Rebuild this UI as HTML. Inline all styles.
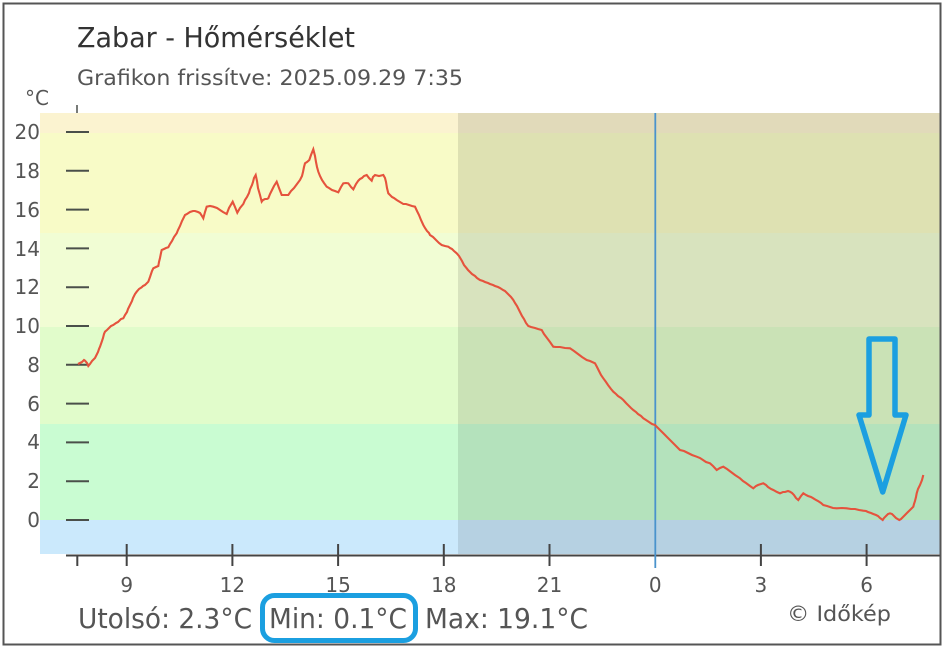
<!DOCTYPE html>
<html>
<head>
<meta charset="utf-8">
<style>
  html,body{margin:0;padding:0;background:#fff;}
  svg{display:block;}
  text{font-family:"DejaVu Sans","Liberation Sans",sans-serif;}
</style>
</head>
<body>
<svg width="945" height="650" viewBox="0 0 945 650" xmlns="http://www.w3.org/2000/svg">
  <rect x="0" y="0" width="945" height="650" fill="#fff"/>
  <!-- temperature bands -->
  <rect x="40" y="113" width="900" height="20" fill="#fbf3d0"/>
  <rect x="40" y="133" width="900" height="100" fill="#f8fbc7"/>
  <rect x="40" y="233" width="900" height="94" fill="#f1fdd4"/>
  <rect x="40" y="327" width="900" height="97" fill="#e1fccb"/>
  <rect x="40" y="424" width="900" height="96" fill="#c9fcd2"/>
  <rect x="40" y="520" width="900" height="34" fill="#cbe9fc"/>
  <!-- night shading -->
  <rect x="458" y="113" width="482" height="441" fill="#000" fill-opacity="0.1"/>

  <!-- y tick dashes -->
  <g stroke="#4a4f4a" stroke-width="2">
    <line x1="66" y1="520" x2="89" y2="520"/>
    <line x1="66" y1="481.2" x2="89" y2="481.2"/>
    <line x1="66" y1="442.4" x2="89" y2="442.4"/>
    <line x1="66" y1="403.6" x2="89" y2="403.6"/>
    <line x1="66" y1="364.8" x2="89" y2="364.8"/>
    <line x1="66" y1="326" x2="89" y2="326"/>
    <line x1="66" y1="287.2" x2="89" y2="287.2"/>
    <line x1="66" y1="248.4" x2="89" y2="248.4"/>
    <line x1="66" y1="209.6" x2="89" y2="209.6"/>
    <line x1="66" y1="170.8" x2="89" y2="170.8"/>
    <line x1="66" y1="132" x2="89" y2="132"/>
    <line x1="77" y1="105" x2="77" y2="113" stroke-width="1.5"/>
  </g>

  <!-- x axis -->
  <g stroke="#444" stroke-width="2">
    <line x1="66" y1="555.5" x2="940" y2="555.5"/>
    <line x1="77.3" y1="556" x2="77.3" y2="566"/>
    <line x1="126.7" y1="544" x2="126.7" y2="566"/>
    <line x1="232.4" y1="544" x2="232.4" y2="566"/>
    <line x1="338.1" y1="544" x2="338.1" y2="566"/>
    <line x1="443.8" y1="544" x2="443.8" y2="566"/>
    <line x1="549.5" y1="544" x2="549.5" y2="566"/>
    <line x1="760.9" y1="544" x2="760.9" y2="566"/>
    <line x1="866.6" y1="544" x2="866.6" y2="566"/>
  </g>

  <!-- midnight line -->
  <line x1="655.3" y1="113" x2="655.3" y2="568" stroke="#4a93cc" stroke-width="1.8"/>

  <!-- temperature curve -->
  <polyline fill="none" stroke="#e5533d" stroke-width="2.1" stroke-linejoin="miter"
    points="78,364 80,363 82,362 84,360 85,360.7 87,363 88.3,366 90,364 92,361 94,359 95,358 97,354 98,352 99,349 100,346.7 102,341 103,338 104,334 105,331.7 107,330 109,328 111,326 113.3,325 116,323 118,322 121,319 123.3,318.3 125,315 127,312 128,309 130,305 132,301 133,298 135,294 136.7,291.7 139,289 141.7,287.3 143,286 145,285 147,283 148.3,281.7 150,277 151,274 152,271 153.3,268.3 156,267 158.3,266 159,262 160,258 161,253 161.7,250 164,249 166,248 168.3,247.3 170,244 172,241 174,237 176.7,233.3 178,230 180,226 182,221 185,215 187,214 190,212 193,211 195,211 198,212 200,213 202,216 203.3,218.3 205,212 206.7,206.7 210,206 213.3,206.7 217,208 220,210 223,212 226.7,214 229,208 232.7,201.7 235,207 237.3,212.7 240,208 243.3,204 245,200 247,197 249,193 250,189.3 252,185 253,182 254,178 255.7,175 257,181 258,188 260,195 261.7,201.7 263,200 265,199 267,199 268.3,198.3 270,194 272,190 274,186 276.7,181.7 279,188 281.7,195 285,195 288.3,195 291,191 294,188 297,184 300,180 302,176 303,172 304,167 305,163.3 307,162 309.3,160 311,155 313.3,149.3 315,156 316,162 317,167 318.3,171.7 320,176 322,180 324,183 326.7,186.7 329,188 332,190 335,191 338.3,192.3 341,187 343.3,183.3 346,183 348.3,183.3 351,187 353.3,189.3 356,184 358.3,180.7 360,179 362,178 364,176 366.7,175 369,178 371.7,180.7 373,177 375,175 379,176 383.3,175 385,178 386,182 387,188 388.3,193.3 390,195 392,197 394,198 396.7,200 400,202 403.3,204 406,204 409,205 412,206 415,206.7 417,211 419,215 421,220 423.3,225 425,228 427,231 429,233 430,235 433,237 436,240 439,243 441.7,245 445,246 448.3,246.7 450,248 452,249 454,251 456.7,253.3 459,256 462,261 464,265 466.7,268.3 468,270 470,272 472,274 475,276 477,278 480,280 483,281 485,282 488,283 490,284 493,285 495,286 498,287 500,288 503,290 505,291 507,293 509,295 511,297 513.3,300 515,303 517,306 519,310 520,312 522,316 524,319 526,323 528.3,326 531,327 535,328 538,329 541.7,330 544,334 547,338 550,342 553.3,346.7 556,347 560,347 565,348 570,348.3 574,351 578,354 582,357 586.7,360 590,361 595,363.3 597,367 599,371 601,375 603.3,378.3 606,382 608,385 611,389 613.3,391.7 616,394 618,396 621,398 623.3,400 626,403 628,405 631,408 633.3,410 636,412 638,414 641,416 643.3,418.3 646,420 649,422 652,424 655,425 657,427 659,429 661,431 663.3,433.3 667,437 671,441 675,445 680,450 684,451 688,453 692,455 696.7,456.7 700,458 703,460 706,462 710,463.3 713,466 716.7,470 720,468 723.3,466.7 727,469 731,472 735,475 740,478.3 743,481 746,483 750,486 753.3,488.3 756,486 758,485 761,484 763.3,483.3 766,485 768,487 771,489 773.3,490 777,492 780,493.3 783,492 785,492 788,491 790,491.7 792,493 794,495 796,498 798.3,500 801,496 803.3,493.3 806,495 808,496 811,497 813.3,498.3 816,500 818,501 821,503 823.3,505 827,506 830,507 833,508 836.7,508.3 842,508 846.7,508.3 851,509 855,509 859,510 863.3,510.7 866,511 868,512 871,513 873.3,514 876,515 878,516 880,518 882.7,520 884,518 886,516 888,514 890,513.3 892,514 894,516 896,518 899.3,520 901,519 903,517 905,515 906.7,513.3 910,510 913.3,506.7 914,504 915,501 916,497 916.7,493.3 918,489 920,485 922,480 923.3,475"/>

  <!-- y labels -->
  <g font-size="20" fill="#555" text-anchor="end">
    <text x="40" y="527">0</text>
    <text x="40" y="488">2</text>
    <text x="40" y="449">4</text>
    <text x="40" y="411">6</text>
    <text x="40" y="372">8</text>
    <text x="40" y="333">10</text>
    <text x="40" y="294">12</text>
    <text x="40" y="256">14</text>
    <text x="40" y="217">16</text>
    <text x="40" y="178">18</text>
    <text x="40" y="139">20</text>
  </g>
  <text x="25" y="105" font-size="20" fill="#555">°C</text>

  <!-- x labels -->
  <g font-size="20" fill="#555" text-anchor="middle">
    <text x="126.7" y="592">9</text>
    <text x="232.4" y="592">12</text>
    <text x="338.1" y="592">15</text>
    <text x="443.8" y="592">18</text>
    <text x="549.5" y="592">21</text>
    <text x="655.3" y="592">0</text>
    <text x="760.9" y="592">3</text>
    <text x="866.6" y="592">6</text>
  </g>

  <!-- titles -->
  <text x="77" y="47" font-size="28" fill="#333" textLength="278" lengthAdjust="spacingAndGlyphs">Zabar - Hőmérséklet</text>
  <text x="77" y="85" font-size="21" fill="#555" textLength="386" lengthAdjust="spacingAndGlyphs">Grafikon frissítve: 2025.09.29 7:35</text>

  <!-- bottom stats -->
  <g font-size="28" fill="#555">
    <text x="78" y="628" textLength="174" lengthAdjust="spacingAndGlyphs">Utolsó: 2.3°C</text>
    <text x="269" y="628" textLength="138" lengthAdjust="spacingAndGlyphs">Min: 0.1°C</text>
    <text x="425" y="628" textLength="163" lengthAdjust="spacingAndGlyphs">Max: 19.1°C</text>
  </g>
  <text x="787" y="621" font-size="21" fill="#555" textLength="104" lengthAdjust="spacingAndGlyphs">© Időkép</text>

  <!-- annotations -->
  <rect x="262.5" y="595.5" width="153" height="45" rx="12" ry="12" fill="none" stroke="#1b9fe0" stroke-width="5"/>
  <polygon points="869,339 895,339 895,415 906,415 882.7,492 859,415 869,415" fill="none" stroke="#1b9fe0" stroke-width="5.5" stroke-linejoin="round"/>

  <!-- outer border -->
  <rect x="3.5" y="3.5" width="937" height="641" fill="none" stroke="#555" stroke-width="2"/>
</svg>
</body>
</html>
